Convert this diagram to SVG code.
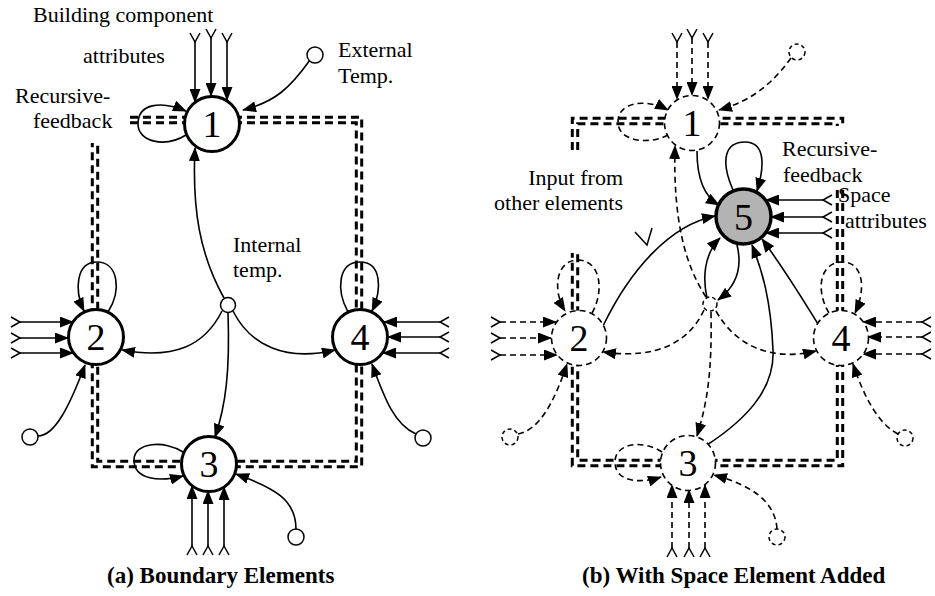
<svg xmlns="http://www.w3.org/2000/svg" width="935" height="596" viewBox="0 0 935 596">
<style>
.n{fill:#fff;stroke:#000;stroke-width:3}
.nd{fill:#fff;stroke:#000;stroke-width:1.6;stroke-dasharray:6 4}
.n5{fill:#b3b3b3;stroke:#000;stroke-width:3.5}
.sm{fill:#fff;stroke:#000;stroke-width:1.5}
.smd{fill:#fff;stroke:#000;stroke-width:1.5;stroke-dasharray:4 3}
.e{fill:none;stroke:#000;stroke-width:1.6;marker-end:url(#ah)}
.d{stroke-dasharray:6 4}
.t{marker-start:url(#tl)}
.b{fill:none;stroke:#000;stroke-width:3;stroke-dasharray:8 5}
text{font-family:"Liberation Serif","Times New Roman",serif;font-size:22px;fill:#000}
.num{font-size:38px;text-anchor:middle}
.cap{font-weight:bold;font-size:23px}
</style>
<defs>
<marker id="ah" markerUnits="userSpaceOnUse" markerWidth="14" markerHeight="11" refX="13" refY="5.5" orient="auto" viewBox="0 0 14 11"><path d="M0,0 L14,5.5 L0,11 z" fill="#000"/></marker>
<marker id="tl" markerUnits="userSpaceOnUse" markerWidth="12" markerHeight="12" refX="10" refY="6" orient="auto" viewBox="0 0 12 12"><path d="M1,1 L10,6 L1,11" fill="none" stroke="#000" stroke-width="1.5"/></marker>
</defs>

<g id="boundaries">
<path class="b" d="M130,117.3 H361.7 V466.7 H92.3 V143"/>
<path class="b" d="M130,122.7 H356.3 V461.3 H97.7 V143"/>
<path class="b" d="M572.3,150 V118.3 H842.7 V126"/>
<path class="b" d="M577.7,150 V123.7 H837.3 V126"/>
<path class="b" d="M842.7,190 V465.7 H572.3 V253"/>
<path class="b" d="M837.3,190 V460.3 H577.7 V253"/>
</g>

<g id="labels">
<text x="33" y="22">Building component</text>
<text x="83" y="63">attributes</text>
<text x="338" y="57">External</text>
<text x="338" y="83">Temp.</text>
<text x="15" y="103">Recursive-</text>
<text x="33" y="128">feedback</text>
<text x="233" y="252">Internal</text>
<text x="233" y="277">temp.</text>
<text x="623" y="185" text-anchor="end">Input from</text>
<text x="623" y="210" text-anchor="end">other elements</text>
<text x="782" y="156">Recursive-</text>
<text x="783" y="182">feedback</text>
<text x="838" y="202">Space</text>
<text x="845" y="228">attributes</text>
<text class="cap" x="107" y="583">(a) Boundary Elements</text>
<text class="cap" x="582" y="583">(b) With Space Element Added</text>
</g>

<g id="connectors">
<!-- left diagram -->
<path class="e t" d="M195,42 L195,102"/>
<path class="e t" d="M211,38 L211,96"/>
<path class="e t" d="M227,42 L227,100"/>
<path class="e" d="M310,60 C290,88 275,102 243,110"/>
<path class="e" d="M186,135 C165,148 138,142 138,124 C138,104 160,100 186,111"/>
<path class="e" d="M224,298 C200,255 192,210 195,148"/>
<path class="e" d="M108,312 C122,290 118,262 97,262 C76,262 74,290 84,311"/>
<path class="e t" d="M20,322 L73,322"/>
<path class="e t" d="M20,338 L68,338"/>
<path class="e t" d="M20,353 L73,353"/>
<path class="e" d="M222,311 C205,345 175,360 122,350"/>
<path class="e" d="M38,436 C55,436 70,405 85,365"/>
<path class="e" d="M348,312 C336,290 338,262 360,262 C382,262 382,290 372,311"/>
<path class="e t" d="M440,322 L384,322"/>
<path class="e t" d="M440,337 L388,337"/>
<path class="e t" d="M440,353 L383,353"/>
<path class="e" d="M233,311 C250,345 285,362 335,350"/>
<path class="e" d="M416,434 C395,425 385,400 372,364"/>
<path class="e" d="M228,313 C230,370 226,405 215,437"/>
<path class="e" d="M183,452 C165,440 134,442 134,460 C134,480 160,482 183,476"/>
<path class="e t" d="M192,546 L192,486"/>
<path class="e t" d="M208,546 L208,491"/>
<path class="e t" d="M224,546 L224,487"/>
<path class="e" d="M296,529 C296,500 275,488 236,474"/>
<!-- right diagram -->
<path class="e d t" d="M677,42 L677,99"/>
<path class="e d t" d="M692,38 L692,95"/>
<path class="e d t" d="M708,42 L708,99"/>
<path class="e d" d="M791,58 C775,80 755,100 719,110"/>
<path class="e d" d="M668,135 C650,145 618,142 618,122 C618,102 645,98 668,110"/>
<path class="e d" d="M706,297 C685,265 673,220 675,146"/>
<path class="e d" d="M592,313 C605,290 600,260 578,260 C556,260 552,290 565,311"/>
<path class="e d t" d="M500,322 L556,322"/>
<path class="e d t" d="M500,338 L551,338"/>
<path class="e d t" d="M500,355 L557,355"/>
<path class="e d" d="M704,310 C690,340 660,360 603,352"/>
<path class="e d" d="M518,434 C540,430 555,400 567,364"/>
<path class="e" d="M603,326 C630,270 670,225 715,216"/>
<path class="e d" d="M829,313 C815,290 820,262 842,262 C864,262 866,290 855,313"/>
<path class="e d t" d="M922,322 L863,322"/>
<path class="e d t" d="M922,337 L868,337"/>
<path class="e d t" d="M922,354 L863,354"/>
<path class="e d" d="M716,311 C735,345 770,362 816,351"/>
<path class="e d" d="M898,434 C880,425 865,400 853,364"/>
<path class="e" d="M818,324 C800,295 785,270 762,239"/>
<path class="e" d="M707,298 C703,280 703,255 720,238"/>
<path class="e" d="M737,245 C742,265 738,285 718,300"/>
<path class="e" d="M707,445 C745,420 775,390 773,350 C771,300 762,270 752,245"/>
<path class="e" d="M697,151 C697,180 705,197 719,205"/>
<path class="e" d="M733,190 C720,160 725,142 745,142 C765,142 765,165 757,191"/>
<path class="e t" d="M823,200 L766,200"/>
<path class="e t" d="M823,217 L771,217"/>
<path class="e t" d="M823,233 L766,233"/>
<path class="e d" d="M662,452 C645,440 615,442 615,462 C615,482 640,484 661,477"/>
<path class="e d t" d="M672,548 L672,485"/>
<path class="e d t" d="M689,548 L689,490"/>
<path class="e d t" d="M705,548 L705,485"/>
<path class="e d" d="M777,529 C775,500 750,485 714,475"/>
<path class="e d" d="M711,312 C712,370 708,400 697,436"/>
<path d="M635,232 L647,245 L652,228" fill="none" stroke="#000" stroke-width="1.5"/>
</g>

<g id="node-a1"><circle class="n" cx="212" cy="124" r="27.5"/><text class="num" x="212" y="137">1</text></g>
<g id="node-a2"><circle class="n" cx="96" cy="337" r="27.5"/><text class="num" x="96" y="350">2</text></g>
<g id="node-a3"><circle class="n" cx="209" cy="464" r="27.5"/><text class="num" x="209" y="477">3</text></g>
<g id="node-a4"><circle class="n" cx="360" cy="337" r="27.5"/><text class="num" x="360" y="350">4</text></g>
<g id="temp-a-int"><circle class="sm" cx="228" cy="305" r="7.5"/></g>
<g id="temp-a-ext"><circle class="sm" cx="315" cy="55" r="8"/></g>
<g id="temp-a-2"><circle class="sm" cx="30" cy="437" r="8"/></g>
<g id="temp-a-4"><circle class="sm" cx="423" cy="438" r="8"/></g>
<g id="temp-a-3"><circle class="sm" cx="296" cy="537" r="8"/></g>

<g id="node-b1"><circle class="nd" cx="692" cy="123" r="27.5"/><text class="num" x="692" y="136">1</text></g>
<g id="node-b2"><circle class="nd" cx="579" cy="338" r="27.5"/><text class="num" x="579" y="351">2</text></g>
<g id="node-b3"><circle class="nd" cx="688" cy="463" r="27.5"/><text class="num" x="688" y="476">3</text></g>
<g id="node-b4"><circle class="nd" cx="841" cy="338" r="27.5"/><text class="num" x="841" y="351">4</text></g>
<g id="node-b5"><circle class="n5" cx="743.5" cy="216.5" r="27.5"/><text class="num" x="743.5" y="229.5">5</text></g>
<g id="temp-b-int"><circle class="smd" cx="710" cy="304" r="7"/></g>
<g id="temp-b-ext"><circle class="smd" cx="797" cy="52" r="8"/></g>
<g id="temp-b-2"><circle class="smd" cx="510" cy="437" r="8"/></g>
<g id="temp-b-4"><circle class="smd" cx="905" cy="438" r="8"/></g>
<g id="temp-b-3"><circle class="smd" cx="777" cy="537" r="8"/></g>
</svg>
